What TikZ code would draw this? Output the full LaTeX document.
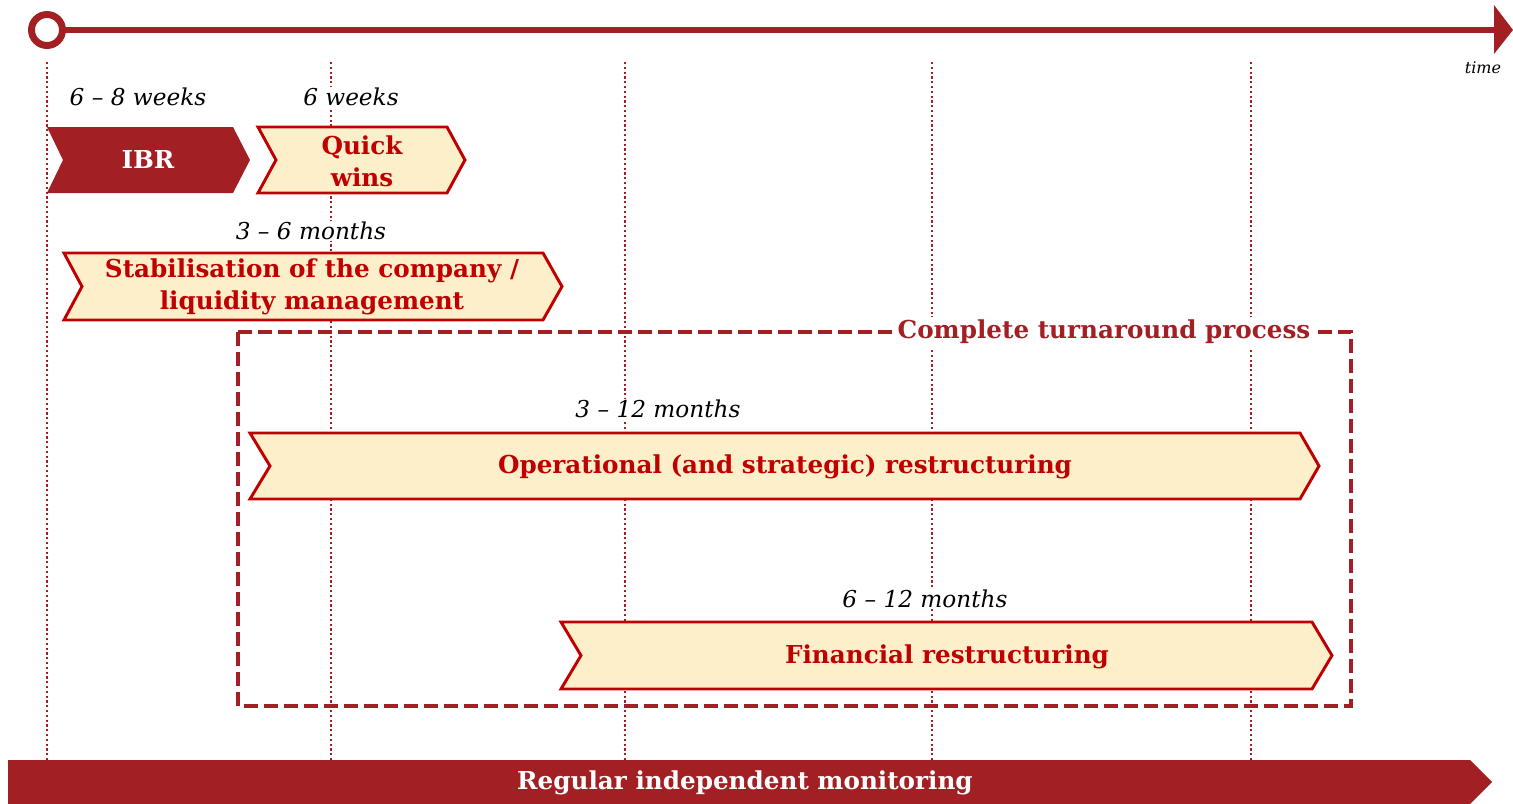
\documentclass[tikz,border=0pt]{standalone}
\usepackage{fontspec}
\setmainfont{DejaVu Serif}
\definecolor{dred}{HTML}{A21F24}
\definecolor{bred}{HTML}{C00000}
\definecolor{cream}{HTML}{FDEFCA}
\begin{document}
\begin{tikzpicture}[x=0.75pt,y=-0.75pt,
  vline/.style={dred, line width=1.8pt, dash pattern=on 1.6pt off 2pt},
  chev/.style={draw=bred, fill=cream, line width=2.2pt, line join=miter},
  chevdark/.style={fill=dred},
  ctext/.style={text=bred, font=\bfseries\fontsize{18.5}{24}\selectfont, align=center, inner sep=0pt},
  dur/.style={font=\itshape\fontsize{17.4}{20}\selectfont, fill=white, inner sep=1pt},
]
\useasboundingbox (0,0) rectangle (1513,803);
% dotted verticals
\foreach \xx in {47,331,625,932,1251} \draw[vline] (\xx,62) -- (\xx,760);
% timeline
\draw[dred, line width=4.5pt] (64,30) -- (1497,30);
\fill[dred] (1494,5) -- (1513,30) -- (1494,54) -- cycle;
\draw[dred, line width=5.2pt, fill=white] (47,30) circle[radius=15.5];
\node[font=\itshape\fontsize{12}{14}\selectfont] (time) at (1483,68) {time};
% IBR
\fill[chevdark] (47,127) -- (233,127) -- (250,160) -- (233,193) -- (47,193) -- (63,160) -- cycle;
\node[ctext, text=white] (ibr) at (148,160) {IBR};
\node[dur] (d1) at (138,97) {6 – 8 weeks};
% Quick wins
\draw[chev] (258,127) -- (447,127) -- (465,160) -- (447,193) -- (258,193) -- (276,160) -- cycle;
\node[ctext] (qw) at (362,161) {Quick\\wins};
\node[dur] (d2) at (351,97) {6 weeks};
% Stabilisation
\draw[chev] (64,253) -- (543,253) -- (562,286.5) -- (543,320) -- (64,320) -- (82,286.5) -- cycle;
\node[ctext] (stab) at (312,287) {Stabilisation of the company /\\liquidity management};
\node[dur] (d3) at (311,231) {3 – 6 months};
% dashed box
\draw[dred, line width=3pt, dash pattern=on 10.5pt off 4.5pt] (238,332) rectangle (1351,706);
\node[ctext, text=dred, fill=white, inner xsep=4pt, inner ysep=2pt] (ctp) at (1104,332) {Complete turnaround process};
% Operational
\draw[chev] (250,433) -- (1300,433) -- (1319,466) -- (1300,499) -- (250,499) -- (270,466) -- cycle;
\node[ctext] (op) at (785,467) {Operational (and strategic) restructuring};
\node[dur] (d4) at (658,409) {3 – 12 months};
% Financial
\draw[chev] (561,622) -- (1312,622) -- (1332,655.5) -- (1312,689) -- (561,689) -- (581,655.5) -- cycle;
\node[ctext] (fin) at (947,657) {Financial restructuring};
\node[dur] (d5) at (925,599) {6 – 12 months};
% bottom bar
\fill[dred] (8,760) -- (1470,760) -- (1492,782) -- (1470,804) -- (8,804) -- cycle;
\node[ctext, text=white] (mon) at (745,783) {Regular independent monitoring};
\end{tikzpicture}
\end{document}
